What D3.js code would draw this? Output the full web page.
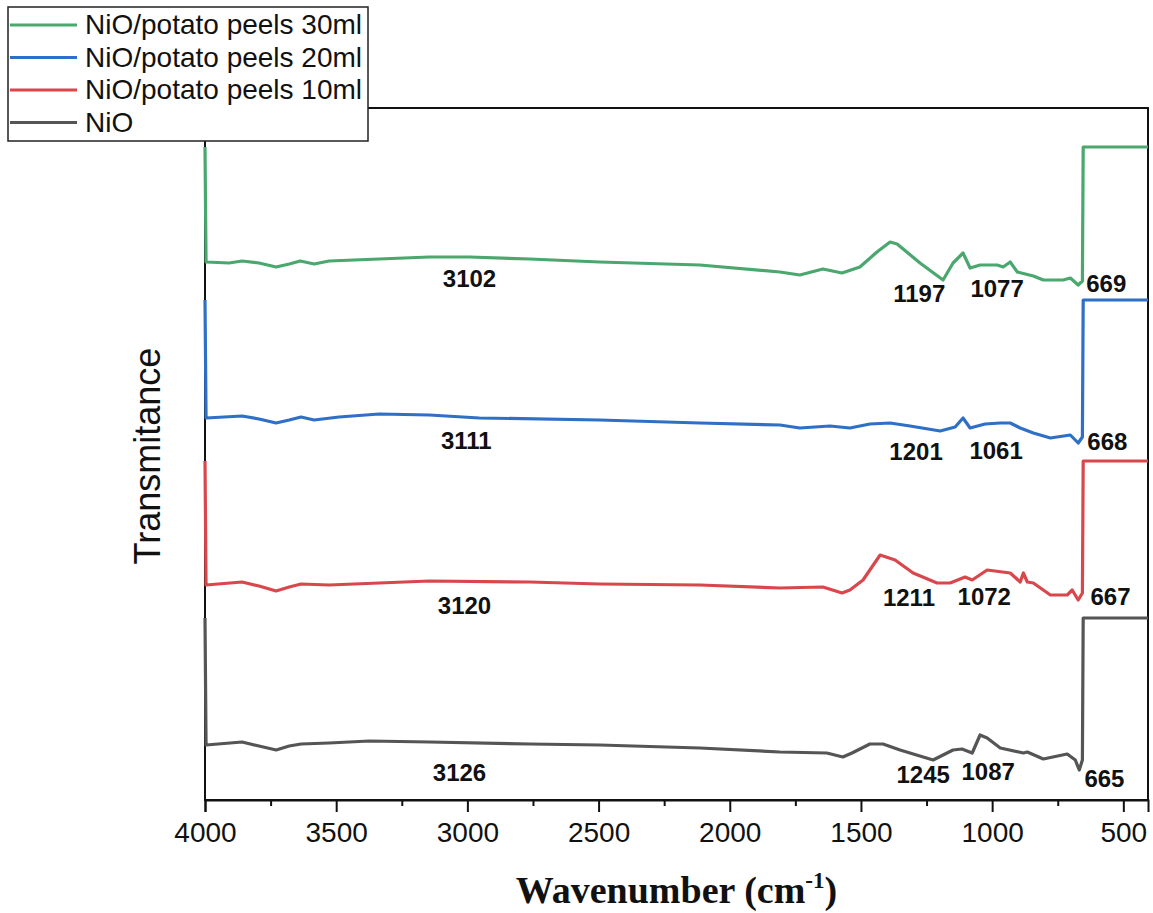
<!DOCTYPE html>
<html>
<head>
<meta charset="utf-8">
<script src="https://cdn.jsdelivr.net/npm/d3@7"></script>
<style>
  body { margin: 0; background: #fff; }
  svg { display: block; }
</style>
</head>
<body>
<svg id="chart" width="1153" height="913"></svg>
<script>
// series names + colours (legend order, top to bottom)
const seriesNames = ["NiO/potato peels 30ml", "NiO/potato peels 20ml", "NiO/potato peels 10ml", "NiO"];
const seriesColors = ["#4aa76e", "#2f6fc6", "#d8474c", "#555555"];

// [wavenumber (cm-1), transmittance (a.u., stacked offsets)]
const pp30 = [
  [4000, 653], [3996, 538], [3908, 537], [3859, 539], [3794, 537], [3729, 533], [3679, 536],
  [3637, 539], [3584, 536], [3527, 539], [3336, 541], [3145, 543], [2992, 543], [2763, 541],
  [2496, 538], [2114, 535], [1809, 528], [1733, 525], [1645, 531], [1572, 527], [1504, 533],
  [1439, 548], [1389, 558], [1362, 556], [1275, 537], [1187, 520], [1149, 537], [1111, 547],
  [1084, 532], [1046, 535], [981, 535], [958, 533], [931, 538], [904, 528], [843, 524],
  [805, 520], [729, 520], [702, 522], [672, 515], [656, 519], [653, 653], [400, 653]
];
const pp20 = [
  [4000, 500], [3996, 382], [3859, 384], [3794, 381], [3729, 377], [3679, 380], [3634, 383],
  [3584, 380], [3489, 383], [3336, 386], [3145, 385], [2954, 382], [2496, 380], [2114, 377],
  [1809, 375], [1733, 372], [1618, 374], [1542, 372], [1466, 376], [1389, 377], [1313, 374],
  [1198, 369], [1141, 373], [1111, 382], [1084, 372], [1027, 376], [969, 377], [931, 377],
  [893, 372], [843, 367], [778, 362], [702, 365], [672, 357], [656, 363], [653, 500], [400, 500]
];
const pp10 = [
  [4000, 339], [3996, 215], [3859, 218], [3794, 214], [3729, 209], [3679, 213], [3634, 216],
  [3527, 215], [3145, 219], [2763, 218], [2496, 216], [2114, 215], [1809, 212], [1645, 213],
  [1572, 207], [1542, 210], [1492, 220], [1427, 245], [1370, 240], [1301, 227], [1210, 217],
  [1160, 217], [1103, 223], [1076, 220], [1019, 230], [931, 227], [893, 218], [881, 227],
  [866, 218], [843, 217], [778, 205], [714, 205], [695, 210], [672, 200], [656, 207],
  [653, 339], [400, 339]
];
const nio = [
  [4000, 182], [3996, 55], [3859, 58], [3794, 54], [3729, 50], [3679, 54], [3634, 56],
  [3527, 57], [3374, 59], [3145, 58], [2763, 56], [2496, 55], [2114, 52], [1809, 48],
  [1630, 47], [1569, 43], [1534, 47], [1466, 56], [1416, 56], [1351, 50], [1225, 40],
  [1149, 50], [1115, 51], [1076, 47], [1046, 65], [1019, 62], [969, 52], [881, 47],
  [866, 48], [805, 41], [714, 46], [683, 40], [668, 30], [656, 40], [653, 182], [400, 182]
];
const seriesData = [pp30, pp20, pp10, nio];

// peak labels: [text, wavenumber, value]
const peakLabels = [
  ["3102", 2992, 513], ["1197", 1278, 498], ["1077", 981, 503], ["669", 565, 508],
  ["3111", 3004, 351], ["1201", 1290, 340], ["1061", 985, 341], ["668", 561, 350],
  ["3120", 3011, 186], ["1211", 1317, 194], ["1072", 1030, 195], ["667", 549, 195],
  ["3126", 3030, 19], ["1245", 1263, 17], ["1087", 1015, 20], ["665", 572, 13]
];

const majorTicks = [4000, 3500, 3000, 2500, 2000, 1500, 1000, 500];
const minorTicks = [3750, 3250, 2750, 2250, 1750, 1250, 750];

const svg = d3.select("#chart");
const margin = {top: 108, right: 5, bottom: 113, left: 205};
const width = +svg.attr("width"), height = +svg.attr("height");
const plotW = width - margin.left - margin.right;
const plotH = height - margin.top - margin.bottom;

const x = d3.scaleLinear().domain([4000, 406]).range([0, plotW]);
const y = d3.scaleLinear().domain([0, 692]).range([plotH, 0]);

const g = svg.append("g").attr("transform", `translate(${margin.left},${margin.top})`);

g.append("clipPath").attr("id", "plotClip")
  .append("rect").attr("x", -3).attr("y", 0).attr("width", plotW + 3).attr("height", plotH);

// frame
g.append("rect")
  .attr("width", plotW).attr("height", plotH)
  .attr("fill", "none").attr("stroke", "#111").attr("stroke-width", 2);

// x axis
const xAxis = g.append("g").attr("transform", `translate(0,${plotH})`)
  .call(d3.axisBottom(x).tickValues(majorTicks).tickSize(12).tickPadding(10).tickFormat(d3.format("d")));
xAxis.select(".domain").attr("stroke", "#111").attr("stroke-width", 2);
xAxis.selectAll(".tick line").attr("stroke", "#111").attr("stroke-width", 2);
xAxis.selectAll(".tick text")
  .attr("font-family", "Arial, 'Liberation Sans', sans-serif")
  .attr("font-size", 28).attr("fill", "#111");

const minorAxis = g.append("g").attr("transform", `translate(0,${plotH})`)
  .call(d3.axisBottom(x).tickValues(minorTicks).tickSize(6).tickFormat(""));
minorAxis.select(".domain").remove();
minorAxis.selectAll(".tick line").attr("stroke", "#111").attr("stroke-width", 2);

// axis titles
const xTitle = svg.append("text")
  .attr("x", margin.left + plotW / 2).attr("y", 903)
  .attr("text-anchor", "middle")
  .attr("font-family", "'Times New Roman', 'Liberation Serif', serif")
  .attr("font-weight", "bold").attr("font-size", 38).attr("fill", "#111");
xTitle.append("tspan").text("Wavenumber (cm");
xTitle.append("tspan").attr("font-size", 23).attr("dy", -15).text("-1");
xTitle.append("tspan").attr("dy", 15).text(")");

svg.append("text")
  .attr("transform", "translate(160,456) rotate(-90)")
  .attr("text-anchor", "middle")
  .attr("font-family", "Arial, 'Liberation Sans', sans-serif")
  .attr("font-size", 36).attr("fill", "#111")
  .text("Transmitance");

// spectra
const line = d3.line().x(d => x(d[0])).y(d => y(d[1]));
g.append("g").attr("clip-path", "url(#plotClip)")
  .selectAll("path")
  .data(seriesData)
  .enter().append("path")
  .attr("d", line)
  .attr("fill", "none")
  .attr("stroke", (d, i) => seriesColors[i])
  .attr("stroke-width", 3.2)
  .attr("stroke-linejoin", "round");

// peak labels
g.selectAll("text.peak")
  .data(peakLabels)
  .enter().append("text")
  .attr("class", "peak")
  .attr("x", d => x(d[1]))
  .attr("y", d => y(d[2]))
  .attr("text-anchor", "middle")
  .attr("font-family", "Arial, 'Liberation Sans', sans-serif")
  .attr("font-weight", "bold").attr("font-size", 24).attr("fill", "#111")
  .text(d => d[0]);

// legend
const legend = svg.append("g");
legend.append("rect")
  .attr("x", 8).attr("y", 7).attr("width", 360).attr("height", 134)
  .attr("fill", "#fff").attr("stroke", "#222").attr("stroke-width", 1.5);

const rows = legend.selectAll("g.row")
  .data(seriesNames)
  .enter().append("g")
  .attr("class", "row")
  .attr("transform", (d, i) => `translate(0,${25 + i * 32.5})`);
rows.append("line")
  .attr("x1", 10).attr("x2", 77)
  .attr("stroke", (d, i) => seriesColors[i]).attr("stroke-width", 3);
rows.append("text")
  .attr("x", 85).attr("y", 9)
  .attr("font-family", "Arial, 'Liberation Sans', sans-serif")
  .attr("font-size", 28).attr("fill", "#111")
  .text(d => d);
</script>
</body>
</html>
